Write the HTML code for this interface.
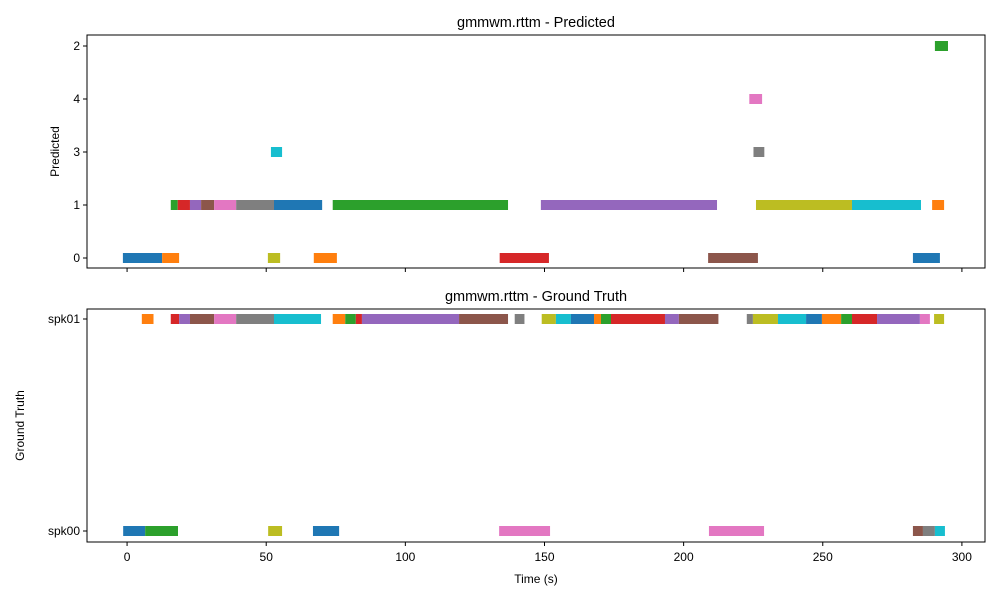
<!DOCTYPE html>
<html><head><meta charset="utf-8"><style>
body{margin:0;background:#fff}
svg{display:block;font-family:"Liberation Sans","DejaVu Sans",sans-serif}
</style></head><body>
<svg id="c" width="1000" height="600"></svg>
<script>
// Data
const xTicks=[0,50,100,150,200,250,300];
const predRows=["0","1","3","4","2"];
const predLabels=["1","1","1","1","1","1","1","1","1","1","1","1","0","0","0","0","0","0","0","3","3","4","2"];
const predStart=[15.7,18.2,22.6,26.6,31.3,39.2,52.8,73.9,148.7,226.0,260.5,289.3,-1.5,12.6,50.6,67.1,133.9,208.8,282.4,51.7,225.1,223.6,290.3];
const predEnd=[18.2,22.6,26.6,31.3,39.2,52.8,70.1,136.9,212.0,260.5,285.3,293.6,12.6,18.7,55.0,75.4,151.6,226.7,292.1,55.7,229.0,228.2,295.0];
const predColor=[2,3,4,5,6,7,0,2,4,8,9,1,0,1,8,1,3,5,0,9,7,6,2];
const gtRows=["spk00","spk01"];
const gtLabels=["spk01","spk01","spk01","spk01","spk01","spk01","spk01","spk01","spk01","spk01","spk01","spk01","spk01","spk01","spk01","spk01","spk01","spk01","spk01","spk01","spk01","spk01","spk01","spk01","spk01","spk01","spk01","spk01","spk01","spk01","spk01","spk00","spk00","spk00","spk00","spk00","spk00","spk00","spk00","spk00"];
const gtStart=[5.3,15.7,18.7,22.6,31.3,39.2,52.8,73.9,78.4,82.2,84.4,119.3,139.3,149.0,154.1,159.5,167.8,170.3,173.9,193.3,198.3,222.7,224.9,233.9,244.0,249.7,256.6,260.5,269.5,284.9,290.0,-1.4,6.5,50.7,66.8,133.7,209.1,282.4,286.0,290.3];
const gtEnd=[9.5,18.7,22.6,31.3,39.2,52.8,69.7,78.4,82.2,84.4,119.3,136.9,142.8,154.1,159.5,167.8,170.3,173.9,193.3,198.3,212.5,224.9,233.9,244.0,249.7,256.6,260.5,269.5,284.9,288.5,293.6,6.5,18.3,55.7,76.2,152.0,228.9,286.0,290.3,293.9];
const gtColor=[1,3,4,5,6,7,9,1,2,3,4,5,7,8,9,0,1,2,3,4,5,7,8,9,0,1,2,3,4,6,8,0,2,8,0,6,6,5,7,9];
const palette=["#1f77b4","#ff7f0e","#2ca02c","#d62728","#9467bd","#8c564b","#e377c2","#7f7f7f","#bcbd22","#17becf"];

const svg=document.getElementById('c');
const NS="http://www.w3.org/2000/svg";
function mk(t,a,txt){const e=document.createElementNS(NS,t);for(const k in a)e.setAttribute(k,a[k]);if(txt!=null)e.textContent=txt;svg.appendChild(e);return e;}
const X0=87,X1=985,T0=-14.4,T1=308.3;
const xs=t=>X0+(t-T0)/(T1-T0)*(X1-X0);

function panel(top,bot,rows,rowY,title,ylabel,ylabX,labels,starts,ends,cols,showX,pfx){
  const rowMap={};rows.forEach((r,i)=>rowMap[r]=rowY(i));
  for(let i=0;i<starts.length;i++){
    const y=rowMap[labels[i]];
    const r=mk('rect',{x:xs(starts[i]),y:y-5,width:xs(ends[i])-xs(starts[i]),height:10,fill:palette[cols[i]]});
    
    
  }
  const f=mk('rect',{x:X0,y:top,width:X1-X0,height:bot-top,fill:'none',stroke:'#000','stroke-width':1});
  
  rows.forEach((r,i)=>{const y=rowY(i);
    mk('line',{x1:X0-4,x2:X0,y1:y,y2:y,stroke:'#000'});
    const t=mk('text',{x:X0-7,y:y+4,'text-anchor':'end','font-size':12},r);
    
  });
  xTicks.forEach(v=>{const x=xs(v);
    mk('line',{x1:x,x2:x,y1:bot,y2:bot+4,stroke:'#000'});
    if(showX){const t=mk('text',{x:x,y:bot+19,'text-anchor':'middle','font-size':12},String(v));
      }
  });
  const tt=mk('text',{x:(X0+X1)/2,y:top-8,'text-anchor':'middle','font-size':14.5},title);
  
  const cy=(top+bot)/2;
  const yl=mk('text',{x:ylabX,y:cy,'text-anchor':'middle','font-size':12,transform:`rotate(-90 ${ylabX} ${cy})`},ylabel);
  
}
panel(35,268,predRows,i=>258-53*i,"gmmwm.rttm - Predicted","Predicted",59,predLabels,predStart,predEnd,predColor,false,'predicted');
panel(309,542,gtRows,i=>531-212*i,"gmmwm.rttm - Ground Truth","Ground Truth",24,gtLabels,gtStart,gtEnd,gtColor,true,'ground-truth');
const xl=mk('text',{x:(X0+X1)/2,y:583,'text-anchor':'middle','font-size':12},"Time (s)");


</script>
</body></html>
